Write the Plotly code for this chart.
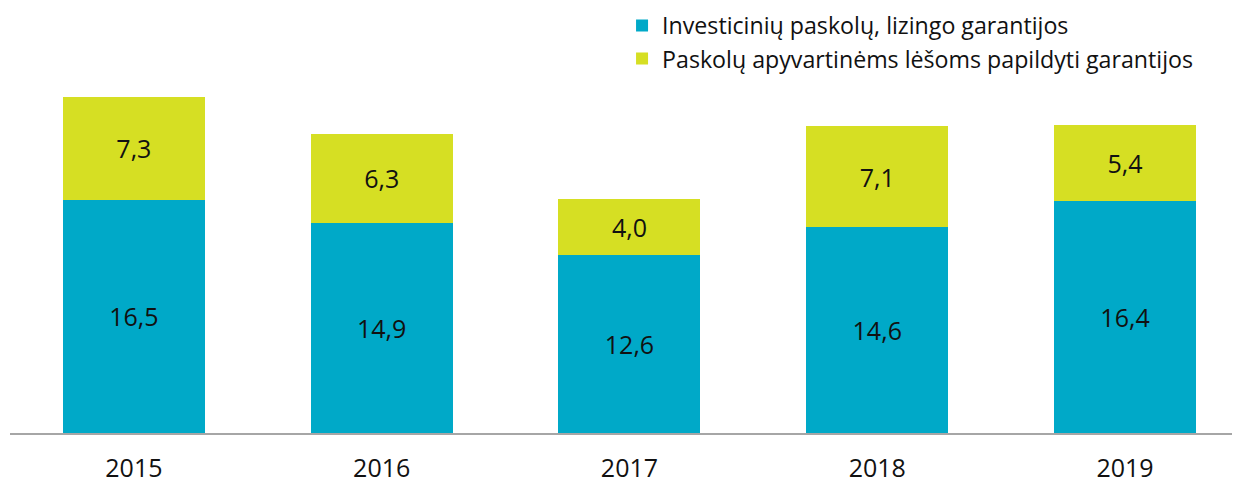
import plotly.graph_objects as go

years = ["2015", "2016", "2017", "2018", "2019"]
invest = [16.5, 14.9, 12.6, 14.6, 16.4]
working = [7.3, 6.3, 4.0, 7.1, 5.4]
names = ["Investicinių paskolų, lizingo garantijos",
         "Paskolų apyvartinėms lėšoms papildyti garantijos"]
colors = ["#00A9C8", "#D6DF23"]

xpos = list(range(len(years)))
FONT = "Open Sans"

fig = go.Figure()
for vals, name, col in zip([invest, working], names, colors):
    fig.add_trace(go.Bar(
        x=xpos, y=vals, name=name, marker=dict(color=col, line=dict(width=0)),
        width=0.573, texttemplate="%{y:.1f}", textposition="inside",
        insidetextanchor="middle", textangle=0,
        textfont=dict(family=FONT, size=25, color="#111111"),
    ))

fig.update_layout(
    barmode="stack",
    separators=", ",
    width=1232, height=475,
    margin=dict(l=2, r=0, t=86, b=50, autoexpand=False),
    plot_bgcolor="white", paper_bgcolor="white",
    font=dict(family=FONT, size=25, color="#111111"),
    showlegend=True,
    legend=dict(traceorder="normal", orientation="v", x=0.4976, xanchor="left",
                y=1.266, yref="paper", yanchor="top",
                font=dict(family=FONT, size=23.2, color="#111111"),
                itemwidth=30, tracegroupgap=0, bgcolor="rgba(0,0,0,0)"),
    uniformtext=dict(minsize=25, mode="show"),
)
fig.update_xaxes(range=[-0.5, 4.464], tickvals=xpos, ticktext=years,
                 showline=True, linecolor="#A6A6A6", linewidth=1.5,
                 ticks="", showgrid=False, zeroline=False, ticklabelstandoff=12,
                 tickfont=dict(family=FONT, size=25, color="#111111"))
fig.update_yaxes(range=[0, 24], visible=False, showgrid=False, zeroline=False)

fig.write_html("out.html")
